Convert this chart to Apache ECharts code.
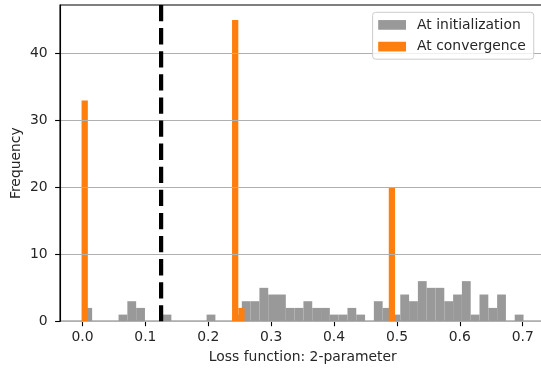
<!DOCTYPE html>
<html>
<head>
<meta charset="utf-8">
<script src="https://cdn.jsdelivr.net/npm/echarts@6/dist/echarts.min.js"></script>
<style>
  html, body { margin: 0; padding: 0; overflow: hidden; background: #ffffff; }
  #chart { width: 547px; height: 375px; }
</style>
</head>
<body>
<div id="chart"></div>
<script>
// Loss histogram for the 2-parameter model: at initialization vs. at convergence

// Histogram at initialization: 50 equal bins
const initBinStart = 0.0013;
const initBinWidth = 0.014;
const initCounts = [
  2, 0, 0, 0, 1, 3, 2, 0, 0, 1,
  0, 0, 0, 0, 1, 0, 0, 1, 3, 3,
  5, 4, 4, 2, 2, 3, 2, 2, 1, 1,
  2, 1, 0, 3, 2, 1, 4, 3, 6, 5,
  5, 3, 4, 6, 1, 4, 2, 4, 0, 1
];

// Histogram at convergence: 50 equal bins
const convBinStart = -0.0015;
const convBinWidth = 0.00997;
const convCounts = [
  33, 0, 0, 0, 0, 0, 0, 0, 0, 0,
  0, 0, 0, 0, 0, 0, 0, 0, 0, 0,
  0, 0, 0, 0, 45, 2, 0, 0, 0, 0,
  0, 0, 0, 0, 0, 0, 0, 0, 0, 0,
  0, 0, 0, 0, 0, 0, 0, 0, 0, 20
];

// Reference loss level drawn as a vertical dashed line
const thresholdValue = 0.125;

// Axis ranges and tick labels
const xMin = -0.0358;
const xMax = 0.7364;
const yMin = 0;
const yMax = 47.25;
const xTicks = [0.0, 0.1, 0.2, 0.3, 0.4, 0.5, 0.6, 0.7];
const yTicks = [0, 10, 20, 30, 40];

const seriesNames = ['At initialization', 'At convergence'];

const FONT = 'DejaVu Sans';
const TEXT = '#262626';
const FS = 13.9;

function binRows(start, width, counts) {
  return counts.map(function (c, i) {
    return [start + i * width, start + (i + 1) * width, c];
  });
}

function renderBin(params, api) {
  const count = api.value(2);
  if (!count) return null;
  const top = api.coord([api.value(0), count]);
  const base = api.coord([api.value(1), 0]);
  return {
    type: 'rect',
    shape: { x: top[0], y: top[1], width: base[0] - top[0], height: base[1] - top[1] },
    style: { fill: api.visual('color') }
  };
}

const chart = echarts.init(document.getElementById('chart'), null, { renderer: 'canvas' });

chart.setOption({
  animation: false,
  backgroundColor: '#ffffff',
  textStyle: { fontFamily: FONT },
  grid: {
    left: 60, right: 1.4, top: 5, bottom: 53.7,
    show: true, borderColor: '#000000', borderWidth: 1.1,
    outerBoundsMode: 'none', containLabel: false
  },
  legend: {
    data: seriesNames,
    orient: 'vertical',
    left: 372.6,
    top: 12.3,
    padding: [5.6, 8, 5.6, 5.6],
    itemWidth: 27.8,
    itemHeight: 9.7,
    itemGap: 7.7,
    icon: 'rect',
    selectedMode: false,
    backgroundColor: 'rgba(255,255,255,0.8)',
    borderColor: '#cccccc',
    borderWidth: 1,
    borderRadius: 3,
    textStyle: { fontFamily: FONT, fontSize: FS, color: TEXT, lineHeight: 14, padding: [0, 0, 0, 6.1] }
  },
  xAxis: {
    type: 'value',
    min: xMin,
    max: xMax,
    name: 'Loss function: 2-parameter',
    nameLocation: 'middle',
    nameGap: 29,
    nameMoveOverlap: false,
    nameTextStyle: { fontFamily: FONT, fontSize: FS, color: TEXT },
    axisLine: { show: true, onZero: false, lineStyle: { color: '#000000', width: 1.1 } },
    axisTick: { show: true, customValues: xTicks, length: 4.9, lineStyle: { color: '#000000', width: 1.1 } },
    axisLabel: {
      customValues: xTicks,
      formatter: function (v) { return v.toFixed(1); },
      margin: 9,
      fontFamily: FONT, fontSize: FS, color: TEXT
    },
    splitLine: { show: false }
  },
  yAxis: {
    type: 'value',
    min: yMin,
    max: yMax,
    z: 3,
    name: 'Frequency',
    nameLocation: 'middle',
    nameGap: 36.3,
    nameMoveOverlap: false,
    nameRotate: 90,
    nameTextStyle: { fontFamily: FONT, fontSize: FS, color: TEXT },
    axisLine: { show: true, onZero: false, lineStyle: { color: '#000000', width: 1.1 } },
    axisTick: { show: true, customValues: yTicks, length: 4.9, lineStyle: { color: '#000000', width: 1.1 } },
    axisLabel: { customValues: yTicks, margin: 12.3, fontFamily: FONT, fontSize: FS, color: TEXT },
    splitLine: { show: true, lineStyle: { color: '#b0b0b0', width: 1.1 } }
  },
  series: [
    {
      name: seriesNames[0],
      type: 'custom',
      renderItem: renderBin,
      itemStyle: { color: '#999999' },
      encode: { x: [0, 1], y: 2 },
      data: binRows(initBinStart, initBinWidth, initCounts),
      z: 1
    },
    {
      name: seriesNames[1],
      type: 'custom',
      renderItem: renderBin,
      itemStyle: { color: '#ff7f0e' },
      encode: { x: [0, 1], y: 2 },
      data: binRows(convBinStart, convBinWidth, convCounts),
      z: 2
    },
    {
      name: 'threshold',
      type: 'line',
      data: [[thresholdValue, yMax], [thresholdValue, yMin]],
      symbol: 'none',
      silent: true,
      lineStyle: { color: '#000000', width: 4.2, type: [16.3, 6.8] },
      z: 5
    }
  ]
});
</script>
</body>
</html>
